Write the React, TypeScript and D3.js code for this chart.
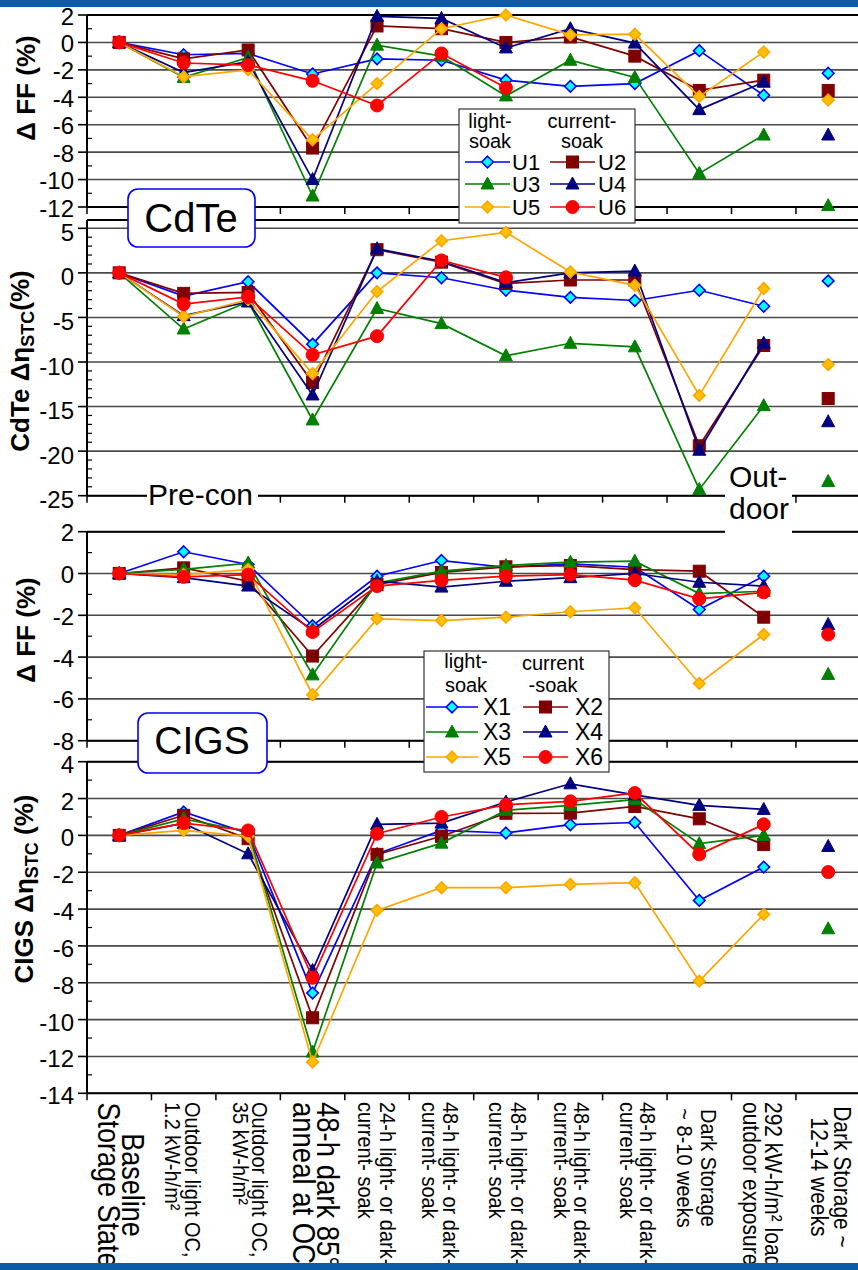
import React from 'react';
import * as d3 from 'd3';

const W = 858;
const H = 1270;
const FONT = '"Liberation Sans", Arial, Helvetica, sans-serif';

// x categories (exposure steps), two lines each
const stageLabels: string[][] = [
  ['Baseline', 'Storage State'],
  ['Outdoor light OC,', '1.2 kW-h/m\u00b2'],
  ['Outdoor light OC,', '35 kW-h/m\u00b2'],
  ['48-h dark 85\u00b0', 'anneal at OC'],
  ['24-h light- or dark-', 'current- soak'],
  ['48-h light- or dark-', 'current- soak'],
  ['48-h light- or dark-', 'current- soak'],
  ['48-h light- or dark-', 'current- soak'],
  ['48-h light- or dark-', 'current- soak'],
  ['Dark Storage', '~ 8-10 weeks'],
  ['292 kW-h/m\u00b2 load', 'outdoor exposure'],
  ['Dark Storage ~', '12-14 weeks'],
];

const cdteNames = ['U1', 'U2', 'U3', 'U4', 'U5', 'U6'];
const cigsNames = ['X1', 'X2', 'X3', 'X4', 'X5', 'X6'];

// CdTe delta FF (%)
const cdteFF_U1 = [0, -0.9, -0.8, -2.3, -1.2, -1.3, -2.75, -3.2, -3.0, -0.6, -3.85, -2.25];
const cdteFF_U2 = [0, -1.2, -0.55, -7.7, 1.2, 1.0, 0.0, 0.4, -1.0, -3.5, -2.75, -3.5];
const cdteFF_U3 = [0, -2.55, -1.1, -11.2, -0.2, -1.0, -3.9, -1.3, -2.55, -9.55, -6.75, -11.9];
const cdteFF_U4 = [0, -2.2, -1.4, -10.0, 1.9, 1.75, -0.4, 1.0, -0.05, -4.9, -2.9, -6.75];
const cdteFF_U5 = [0, -2.5, -2.0, -7.1, -3.0, 1.0, 2.0, 0.55, 0.6, -3.95, -0.7, -4.2];
const cdteFF_U6 = [0, -1.5, -1.65, -2.8, -4.6, -0.8, -3.3, null, null, null, null, null];

// CdTe delta eta STC (%)
const cdteEff_U1 = [0, -2.6, -1.0, -8.0, 0.0, -0.55, -1.95, -2.75, -3.1, -1.95, -3.75, -0.9];
const cdteEff_U2 = [0, -2.3, -2.2, -12.3, 2.6, 1.2, -1.2, -0.8, -0.8, -19.4, -8.15, -14.1];
const cdteEff_U3 = [0, -6.3, -3.25, -16.5, -4.0, -5.7, -9.3, -7.9, -8.3, -24.3, -14.9, -23.4];
const cdteEff_U4 = [0, -4.8, -3.25, -13.7, 2.7, 1.3, -1.1, 0.0, 0.2, -19.9, -7.9, -16.7];
const cdteEff_U5 = [0, -4.9, -3.0, -11.3, -2.1, 3.6, 4.55, 0.1, -1.4, -13.75, -1.75, -10.3];
const cdteEff_U6 = [0, -3.5, -2.7, -9.2, -7.1, 1.4, -0.5, null, null, null, null, null];

// CIGS delta FF (%)
const cigsFF_X1 = [0, 1.04, 0.43, -2.5, -0.13, 0.62, 0.3, 0.46, 0.3, -1.72, -0.13, null];
const cigsFF_X2 = [0, 0.27, -0.37, -3.95, -0.53, 0.05, 0.32, 0.38, 0.19, 0.11, -2.09, null];
const cigsFF_X3 = [0, 0.2, 0.5, -4.85, -0.45, 0.11, 0.38, 0.54, 0.59, -0.96, -0.85, -4.83];
const cigsFF_X4 = [0, -0.2, -0.6, -2.7, -0.37, -0.65, -0.37, -0.2, 0.0, -0.42, -0.6, -2.44];
const cigsFF_X5 = [0, -0.05, 0.2, -5.8, -2.17, -2.25, -2.09, -1.83, -1.64, -5.26, -2.92, null];
const cigsFF_X6 = [0, -0.16, -0.05, -2.8, -0.6, -0.33, -0.13, -0.05, -0.32, -1.21, -0.9, -2.92];

// CIGS delta eta STC (%)
const cigsEff_X1 = [0, 1.27, 0.1, -8.56, -1.0, 0.27, 0.13, 0.58, 0.7, -3.53, -1.72, null];
const cigsEff_X2 = [0, 1.09, -0.18, -9.9, -1.03, -0.05, 1.2, 1.21, 1.57, 0.9, -0.5, null];
const cigsEff_X3 = [0, 0.9, 0.2, -11.76, -1.5, -0.42, 1.36, 1.63, 1.94, -0.45, 0.0, -5.07];
const cigsEff_X4 = [0, 0.65, -1.0, -7.33, 0.6, 0.67, 1.81, 2.8, 2.2, 1.63, 1.41, -0.6];
const cigsEff_X5 = [0, 0.27, -0.05, -12.3, -4.07, -2.84, -2.84, -2.66, -2.57, -7.91, -4.29, null];
const cigsEff_X6 = [0, 0.67, 0.27, -7.73, 0.09, 1.0, 1.66, 1.85, 2.3, -1.03, 0.6, -1.99];

const seriesStyle = [
  { color: '#0000ff', fill: '#00ffff', marker: 'diamond' },
  { color: '#800000', fill: '#800000', marker: 'square' },
  { color: '#008000', fill: '#008000', marker: 'triangle' },
  { color: '#000080', fill: '#000080', marker: 'triangle' },
  { color: '#ffa500', fill: '#ffc000', marker: 'diamond' },
  { color: '#ff0000', fill: '#ff0000', marker: 'circle' },
];

// layout of the rotated category labels: font size, anchor, y, baseline offsets of both lines
const stageLayout = [
  { size: 27, anchor: 'middle', y: 1185, off: [2.5, -21] },
  { size: 20, anchor: 'start', y: 1102, off: [1, -19] },
  { size: 20, anchor: 'start', y: 1102, off: [3.5, -15.5] },
  { size: 27.5, anchor: 'start', y: 1102, off: [4, -20] },
  { size: 20, anchor: 'start', y: 1102, off: [2.5, -19.5] },
  { size: 20, anchor: 'start', y: 1102, off: [2, -19] },
  { size: 20, anchor: 'start', y: 1102, off: [5.5, -16.5] },
  { size: 20, anchor: 'start', y: 1102, off: [4, -16] },
  { size: 20, anchor: 'start', y: 1102, off: [5, -15] },
  { size: 20, anchor: 'middle', y: 1168, off: [2, -22] },
  { size: 21, anchor: 'start', y: 1102, off: [1, -21] },
  { size: 21, anchor: 'middle', y: 1177, off: [6, -17] },
];

const x = d3.scaleBand<number>().domain(d3.range(12)).range([87, 87 + 12 * 64.45]).padding(0);
const cx = (i: number) => (x(i) as number) + x.bandwidth() / 2;

const Marker = ({ type, px, py, color, fill }: any) => {
  if (type === 'diamond') {
    const r = 5.8;
    return <path d={`M${px},${py - r}L${px + r},${py}L${px},${py + r}L${px - r},${py}Z`} fill={fill} stroke={color} strokeWidth={1.6} />;
  }
  if (type === 'square') {
    return <rect x={px - 6} y={py - 6} width={12} height={12} fill={fill} stroke={color} strokeWidth={1} />;
  }
  if (type === 'triangle') {
    return <path d={`M${px},${py - 7}L${px + 6.5},${py + 5}L${px - 6.5},${py + 5}Z`} fill={fill} stroke={color} strokeWidth={1} />;
  }
  return <circle cx={px} cy={py} r={6.5} fill={fill} stroke={color} strokeWidth={1} />;
};

const Panel = ({ p }: any) => {
  const y = d3.scaleLinear().domain(p.domain).range([p.bottom, p.top]);
  const majors = d3.range(p.domain[0], p.domain[1] + 0.001, p.major);
  const minors = d3.range(p.domain[0], p.domain[1] + 0.001, p.minor).filter((v: number) => !majors.includes(v));
  const line = d3
    .line<number | null>()
    .defined((d) => d != null)
    .x((_, i) => cx(i))
    .y((d) => y(d as number));
  const right = W;
  return (
    <g>
      {majors.map((v: number) => (
        <line key={'g' + v} x1={87} x2={right} y1={y(v)} y2={y(v)} stroke="#4a4a4a" strokeWidth={1.6} />
      ))}
      <line x1={87} x2={right} y1={p.frameTop} y2={p.frameTop} stroke="#000" strokeWidth={2} />
      <line x1={87} x2={right} y1={p.bottom} y2={p.bottom} stroke="#000" strokeWidth={2} />
      <line x1={87} x2={87} y1={p.frameTop} y2={p.bottom} stroke="#000" strokeWidth={2} />
      {majors.map((v: number) => (
        <g key={'t' + v}>
          <line x1={78} x2={87} y1={y(v)} y2={y(v)} stroke="#000" strokeWidth={1.6} />
          <text x={74} y={y(v) + p.labelDy} textAnchor="end" dominantBaseline="central" fontSize={24} fontFamily={FONT}>
            {String(v)}
          </text>
        </g>
      ))}
      {minors.map((v: number) => (
        <line key={'m' + v} x1={87} x2={92} y1={y(v)} y2={y(v)} stroke="#000" strokeWidth={1.2} />
      ))}
      {d3.range(0, 12).map((i) => (
        <line key={'xt' + i} x1={x(i)} x2={x(i)} y1={p.bottom} y2={p.bottom + 7} stroke="#000" strokeWidth={1.5} />
      ))}
      {p.series.map((s: (number | null)[], k: number) => {
        const st = seriesStyle[k];
        return (
          <g key={'s' + k}>
            <path d={line(s.slice(0, 11)) || ''} fill="none" stroke={st.color} strokeWidth={1.7} />
            {s.map((v, i) =>
              v == null ? null : <Marker key={i} type={st.marker} px={cx(i)} py={y(v)} color={st.color} fill={st.fill} />
            )}
          </g>
        );
      })}
    </g>
  );
};

const Legend = ({ L, names }: any) => (
  <g fontFamily={FONT}>
    <rect x={L.box[0]} y={L.box[1]} width={L.box[2]} height={L.box[3]} fill="#fff" stroke="#333" strokeWidth={1.2} />
    {L.heads.map((h: any, i: number) => (
      <text key={i} x={h[1]} y={h[2]} textAnchor="middle" fontSize={20}>
        {h[0]}
      </text>
    ))}
    {names.map((n: string, k: number) => {
      const col = k % 2;
      const row = Math.floor(k / 2);
      const st = seriesStyle[k];
      const [x1, x2] = L.cols[col];
      const ry = L.rows[row];
      return (
        <g key={n}>
          <line x1={x1} x2={x2} y1={ry} y2={ry} stroke={st.color} strokeWidth={1.7} />
          <Marker type={st.marker} px={(x1 + x2) / 2} py={ry} color={st.color} fill={st.fill} />
          <text x={L.labelX[col]} y={ry + 8} fontSize={L.labelSize}>
            {n}
          </text>
        </g>
      );
    })}
  </g>
);

const panels = [
  { domain: [-12, 2], top: 15, bottom: 207, frameTop: 15, major: 2, minor: 1, labelDy: 1, series: [cdteFF_U1, cdteFF_U2, cdteFF_U3, cdteFF_U4, cdteFF_U5, cdteFF_U6] },
  { domain: [-25, 5], top: 228.3, bottom: 495.7, frameTop: 220, major: 5, minor: 1, labelDy: 4, series: [cdteEff_U1, cdteEff_U2, cdteEff_U3, cdteEff_U4, cdteEff_U5, cdteEff_U6] },
  { domain: [-8, 2], top: 531.7, bottom: 740.7, frameTop: 531.7, major: 2, minor: 1, labelDy: 1, series: [cigsFF_X1, cigsFF_X2, cigsFF_X3, cigsFF_X4, cigsFF_X5, cigsFF_X6] },
  { domain: [-14, 4], top: 761.7, bottom: 1093.3, frameTop: 761.7, major: 2, minor: 1, labelDy: 2.5, series: [cigsEff_X1, cigsEff_X2, cigsEff_X3, cigsEff_X4, cigsEff_X5, cigsEff_X6] },
];

const legendCdte = {
  box: [459, 109, 176, 114],
  heads: [['light-', 490, 128], ['soak', 490, 148], ['current-', 582, 128], ['soak', 582, 148]],
  rows: [162, 184, 207],
  cols: [[465, 510], [550, 595]],
  labelX: [512, 598],
  labelSize: 22,
};

const legendCigs = {
  box: [424, 651, 185, 121],
  heads: [['light-', 466, 668], ['soak', 466, 692], ['current', 553, 670], ['-soak', 553, 692]],
  rows: [707, 732, 757],
  cols: [[426, 478], [523, 568]],
  labelX: [483, 575],
  labelSize: 23,
};

export default function App() {
  return (
    <svg width={W} height={H} style={{ position: 'absolute', left: 0, top: 0, display: 'block', background: '#fff' }} fontFamily={FONT}>
      <rect width={W} height={H} fill="#fff" />
      {panels.map((p, i) => (
        <Panel key={i} p={p} />
      ))}

      {/* y-axis titles */}
      <text transform="translate(35,88) rotate(-90)" textAnchor="middle" fontWeight="bold" fontSize={26}>
        {'\u0394 FF (%)'}
      </text>
      <text transform="translate(29,361) rotate(-90)" textAnchor="middle" fontWeight="bold" fontSize={26}>
        {'CdTe \u0394\u03b7'}
        <tspan fontSize={18} dy={5}>STC</tspan>
        <tspan dy={-5}>(%)</tspan>
      </text>
      <text transform="translate(35,630) rotate(-90)" textAnchor="middle" fontWeight="bold" fontSize={26}>
        {'\u0394 FF (%)'}
      </text>
      <text transform="translate(33,889) rotate(-90)" textAnchor="middle" fontWeight="bold" fontSize={26}>
        {'CIGS \u0394\u03b7'}
        <tspan fontSize={18} dy={5}>STC</tspan>
        <tspan dy={-5}>{' (%)'}</tspan>
      </text>

      {/* category labels */}
      {stageLabels.map((lines, i) => {
        const L = stageLayout[i];
        return lines.map((t, j) => (
          <text
            key={i + '-' + j}
            transform={`translate(${cx(i) + L.off[j]},${L.y}) rotate(90) scale(1,1.13)`}
            fontSize={L.size}
            textAnchor={L.anchor as any}
          >
            {t}
          </text>
        ));
      })}

      {/* annotations */}
      <rect x={147} y={481} width={111} height={28} fill="#fff" />
      <text x={148} y={505} fontSize={30}>Pre-con</text>
      <rect x={725} y={462} width={67} height={71} fill="#fff" />
      <text x={729} y={487} fontSize={30}>Out-</text>
      <text x={729} y={519} fontSize={30}>door</text>

      <rect x={128} y={189} width={127} height={58} rx={10} fill="#fff" stroke="#0000ff" strokeWidth={1.6} />
      <text x={191} y={232} textAnchor="middle" fontSize={40}>CdTe</text>
      <rect x={138} y={713} width={129} height={60} rx={10} fill="#fff" stroke="#0000ff" strokeWidth={1.6} />
      <text x={202} y={754} textAnchor="middle" fontSize={39}>CIGS</text>

      <Legend L={legendCdte} names={cdteNames} />
      <Legend L={legendCigs} names={cigsNames} />

      {/* slide bands */}
      <rect x={0} y={0} width={W} height={7} fill="#0b5ca8" />
      <rect x={0} y={1263} width={W} height={7} fill="#0b5ca8" />
    </svg>
  );
}
